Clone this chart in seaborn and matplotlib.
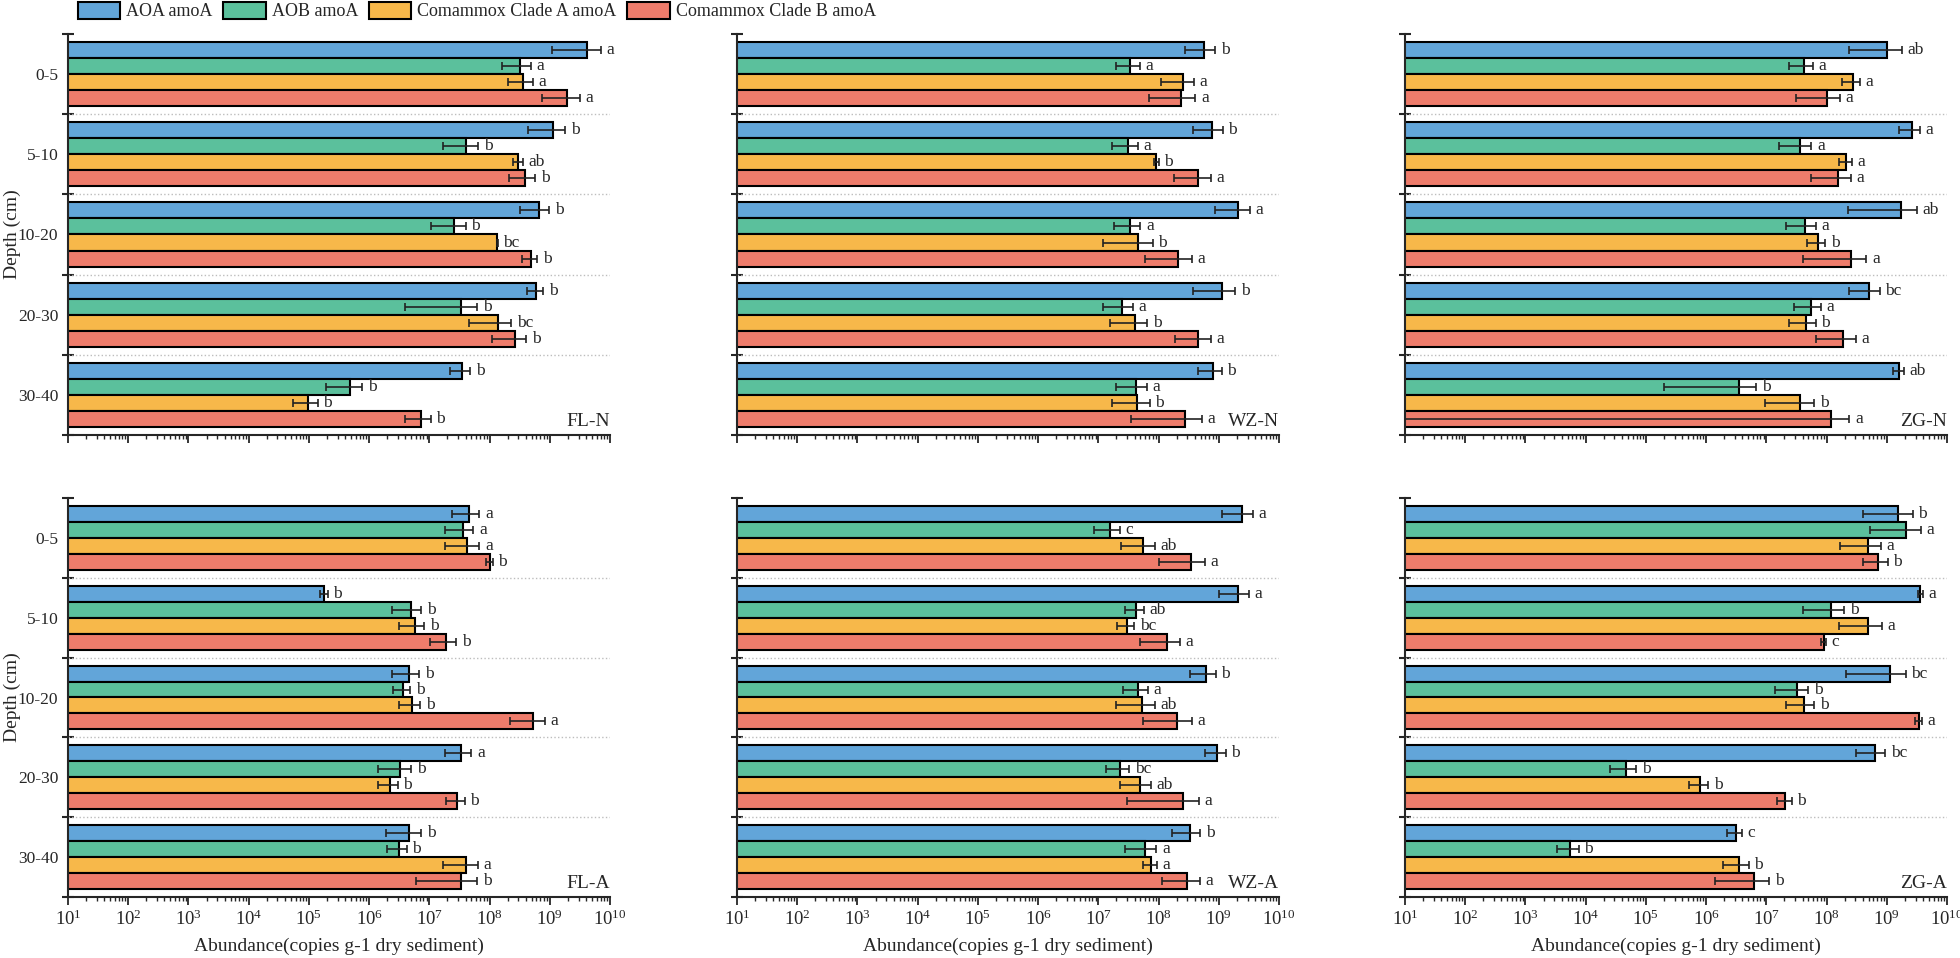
import numpy as np
import pandas as pd
import seaborn as sns
import matplotlib.pyplot as plt
from matplotlib.patches import Patch
from matplotlib.ticker import LogLocator, NullFormatter

# 數據 (讀自原圖, 每組依序 AOA / AOB / Clade A / Clade B)
depths = ['0-5', '5-10', '10-20', '20-30', '30-40']
genes = ['AOA amoA', 'AOB amoA', 'Comammox Clade A amoA', 'Comammox Clade B amoA']

fln_val = [4.1e9, 3.2e8, 3.6e8, 1.95e9, 1.13e9, 4.1e7, 3.0e8, 3.9e8, 6.5e8, 2.55e7,
           1.34e8, 4.8e8, 6.0e8, 3.3e7, 1.36e8, 2.6e8, 3.5e7, 4.8e5, 9.7e4, 7.2e6]
fln_err = [3.0e9, 1.6e8, 1.6e8, 1.2e9, 6.9e8, 2.4e7, 5.5e7, 1.8e8, 3.3e8, 1.5e7,
           3e6, 1.4e8, 1.75e8, 2.9e7, 9.1e7, 1.5e8, 1.3e7, 2.9e5, 4.2e4, 3.3e6]
fln_sig = ['a', 'a', 'a', 'a', 'b', 'b', 'ab', 'b', 'b', 'b',
           'bc', 'b', 'b', 'b', 'bc', 'b', 'b', 'b', 'b', 'b']

wzn_val = [5.7e8, 3.4e7, 2.5e8, 2.4e8, 7.7e8, 3.1e7, 9.2e7, 4.6e8, 2.05e9, 3.4e7,
           4.6e7, 2.1e8, 1.13e9, 2.5e7, 4.05e7, 4.6e8, 7.9e8, 4.2e7, 4.4e7, 2.8e8]
wzn_err = [3.0e8, 1.45e7, 1.4e8, 1.7e8, 3.9e8, 1.4e7, 8e6, 2.8e8, 1.2e9, 1.6e7,
           3.4e7, 1.5e8, 7.5e8, 1.3e7, 2.5e7, 2.7e8, 3.4e8, 2.2e7, 2.7e7, 2.45e8]
wzn_sig = ['b', 'a', 'a', 'a', 'b', 'a', 'b', 'a', 'a', 'a',
           'b', 'a', 'b', 'a', 'b', 'a', 'b', 'a', 'b', 'a']

zgn_val = [1.01e9, 4.2e7, 2.7e8, 1.0e8, 2.6e9, 3.6e7, 2.1e8, 1.55e8, 1.7e9, 4.4e7,
           7.2e7, 2.5e8, 5.0e8, 5.5e7, 4.5e7, 1.86e8, 1.6e9, 3.5e6, 3.6e7, 1.2e8]
zgn_err = [7.7e8, 1.8e7, 8.8e7, 6.9e7, 1.0e9, 2.0e7, 5.0e7, 1.0e8, 1.47e9, 2.3e7,
           2.4e7, 2.1e8, 2.6e8, 2.6e7, 2.1e7, 1.2e8, 3.3e8, 3.3e6, 2.65e7, 1.2e8]
zgn_sig = ['ab', 'a', 'a', 'a', 'a', 'a', 'a', 'a', 'ab', 'a',
           'b', 'a', 'bc', 'a', 'b', 'a', 'ab', 'b', 'b', 'a']

fla_val = [4.6e7, 3.6e7, 4.3e7, 1.0e8, 1.8e5, 4.9e6, 5.7e6, 1.9e7, 4.6e6, 3.65e6,
           5.1e6, 5.3e8, 3.4e7, 3.2e6, 2.2e6, 2.9e7, 4.6e6, 3.1e6, 4.1e7, 3.4e7]
fla_err = [2.2e7, 1.8e7, 2.5e7, 1.3e7, 2.6e4, 2.5e6, 2.6e6, 8.7e6, 2.2e6, 1.15e6,
           2.0e6, 3.1e8, 1.6e7, 1.8e6, 8e5, 1.0e7, 2.7e6, 1.1e6, 2.4e7, 2.8e7]
fla_sig = ['a', 'a', 'a', 'b', 'b', 'b', 'b', 'b', 'b', 'b',
           'b', 'a', 'a', 'b', 'b', 'b', 'b', 'b', 'a', 'b']

wza_val = [2.4e9, 1.56e7, 5.5e7, 3.4e8, 2.1e9, 4.3e7, 3.0e7, 1.38e8, 6.1e8, 4.6e7,
           5.3e7, 2.05e8, 9.5e8, 2.3e7, 4.9e7, 2.5e8, 3.3e8, 6.0e7, 7.5e7, 3.0e8]
wza_err = [1.27e9, 7.1e6, 3.1e7, 2.4e8, 1.1e9, 1.5e7, 9.4e6, 8.8e7, 2.8e8, 2.0e7,
           3.3e7, 1.5e8, 3.6e8, 9.4e6, 2.6e7, 2.2e8, 1.6e8, 3.2e7, 2.0e7, 1.85e8]
wza_sig = ['a', 'c', 'ab', 'a', 'a', 'ab', 'bc', 'a', 'b', 'a',
           'ab', 'a', 'b', 'bc', 'ab', 'a', 'b', 'a', 'a', 'a']

zga_val = [1.55e9, 2.1e9, 4.9e8, 7.2e8, 3.6e9, 1.19e8, 4.9e8, 8.9e7, 1.13e9, 3.2e7,
           4.2e7, 3.4e9, 6.3e8, 4.7e4, 8.0e5, 2.06e7, 3.1e6, 5.5e3, 3.5e6, 6.3e6]
zga_err = [1.14e9, 1.58e9, 3.2e8, 3.1e8, 3.2e8, 7.9e7, 3.3e8, 8.8e6, 9.2e8, 1.8e7,
           2.1e7, 4.6e8, 3.2e8, 2.2e4, 2.9e5, 5.6e6, 8.5e5, 2.2e3, 1.6e6, 4.9e6]
zga_sig = ['b', 'a', 'a', 'b', 'a', 'b', 'a', 'c', 'bc', 'b',
           'b', 'a', 'bc', 'b', 'b', 'b', 'c', 'b', 'b', 'b']

colors = ['#62A5D9', '#5BC09C', '#F7B84A', '#EE7C6B']

sns.set_style('ticks')
plt.rcParams['font.family'] = ['Liberation Serif', 'DejaVu Serif']
plt.rcParams['mathtext.fontset'] = 'custom'
plt.rcParams['mathtext.rm'] = 'Liberation Serif'
plt.rcParams['mathtext.it'] = 'Liberation Serif:italic'
plt.rcParams['mathtext.bf'] = 'Liberation Serif:bold'

fig = plt.figure(figsize=(19.6, 9.58), dpi=100)

W, H = 1960, 958
col_x = [68, 737, 1405]
row_y = [(34, 435), (498, 897)]
pw = 542


def draw_panel(ax, vals, errs, sigs, name, first_col, bottom_row):
    df = pd.DataFrame({'depth': np.repeat(depths, 4), 'gene': genes * 5, 'value': vals})
    sns.barplot(data=df, x='value', y='depth', hue='gene', order=depths, hue_order=genes,
                palette=colors, orient='h', saturation=1, edgecolor='black', linewidth=1.5,
                width=0.8, errorbar=None, legend=False, log_scale=True, ax=ax)
    # 依 y 位置排序 -> 與資料順序一致
    bars = sorted(ax.patches, key=lambda p: p.get_y())
    for p, e, s in zip(bars, errs, sigs):
        yc = p.get_y() + p.get_height() / 2
        v = p.get_width()
        ax.errorbar(v, yc, xerr=e, fmt='none', ecolor='#222222', elinewidth=1.2,
                    capsize=3, capthick=1.2, zorder=5)
        ax.annotate(s, xy=(v + e, yc), xytext=(4, 0), textcoords='offset points',
                    ha='left', va='center', fontsize=12.5)

    ax.set_xscale('log')
    ax.set_xlim(10, 1e10)
    ax.set_ylim(4.5, -0.5)
    ax.xaxis.set_major_locator(LogLocator(base=10, numticks=20))
    ax.xaxis.set_minor_locator(LogLocator(base=10, subs=np.arange(2, 10), numticks=20))
    ax.xaxis.set_minor_formatter(NullFormatter())
    ax.tick_params(axis='x', which='major', direction='out', length=6, width=1.3,
                   labelsize=13.5, pad=3, labelbottom=bottom_row)
    ax.tick_params(axis='x', which='minor', direction='out', length=3, width=1.0)

    ax.set_yticks(np.arange(-0.5, 5, 1.0))
    ax.set_yticklabels([])
    ax.set_yticks(range(5), minor=True)
    ax.set_yticklabels(depths if first_col else [], minor=True)
    ax.tick_params(axis='y', which='major', direction='inout', length=8, width=1.5)
    ax.tick_params(axis='y', which='minor', length=0, pad=7, labelsize=12.5)

    for b in np.arange(0.5, 4.5, 1.0):
        ax.axhline(b, color='#bdbdbd', ls=':', lw=1)

    sns.despine(ax=ax)
    for sp in ['left', 'bottom']:
        ax.spines[sp].set_linewidth(1.5)

    ax.text(1.0, 0.012, name, transform=ax.transAxes, ha='right', va='bottom', fontsize=14)
    if first_col:
        ax.set_ylabel('Depth (cm)', fontsize=14)
        ax.yaxis.set_label_coords(-0.086, 0.5)
    else:
        ax.set_ylabel('')
    if bottom_row:
        ax.set_xlabel('Abundance(copies g-1 dry sediment)', fontsize=14, labelpad=6)
    else:
        ax.set_xlabel('')


panels = [
    (fln_val, fln_err, fln_sig, 'FL-N'), (wzn_val, wzn_err, wzn_sig, 'WZ-N'),
    (zgn_val, zgn_err, zgn_sig, 'ZG-N'), (fla_val, fla_err, fla_sig, 'FL-A'),
    (wza_val, wza_err, wza_sig, 'WZ-A'), (zga_val, zga_err, zga_sig, 'ZG-A'),
]

for i, (vals, errs, sigs, name) in enumerate(panels):
    r, c = divmod(i, 3)
    top, bot = row_y[r]
    ax = fig.add_axes([col_x[c] / W, 1 - bot / H, pw / W, (bot - top) / H])
    draw_panel(ax, vals, errs, sigs, name, c == 0, r == 1)

handles = [Patch(facecolor=col, edgecolor='black', linewidth=1.5, label=g)
           for col, g in zip(colors, genes)]
fig.legend(handles=handles, loc='upper left', bbox_to_anchor=(76 / W, 1.0), ncol=4,
           frameon=False, fontsize=13, handlelength=2.35, handleheight=1.05,
           handletextpad=0.33, columnspacing=0.6, borderpad=0.1, borderaxespad=0)

fig.savefig('out.png', dpi=100)
